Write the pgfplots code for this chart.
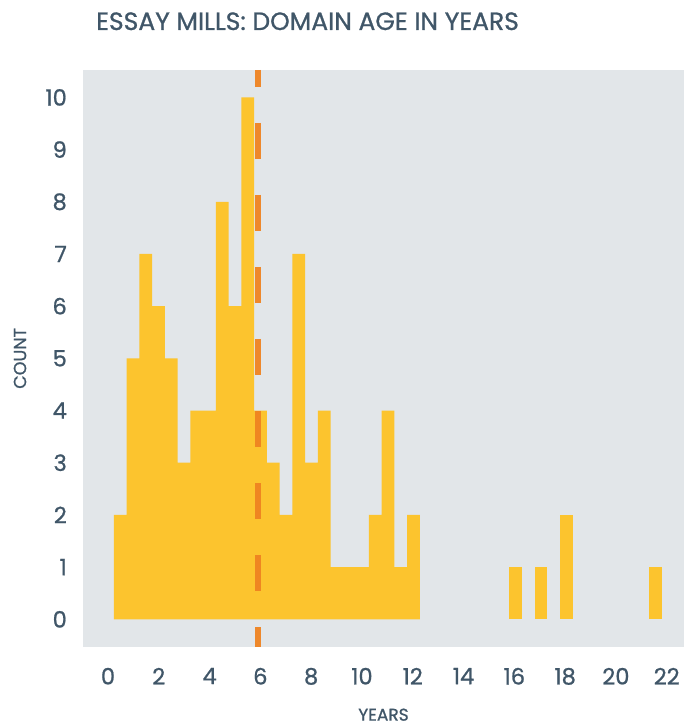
\documentclass[border=0pt]{standalone}
\usepackage{fontspec}
\setmainfont[FakeBold=0.9]{Poppins}
\usepackage{pgfplots}
\pgfplotsset{compat=1.18}
\definecolor{panel}{RGB}{226,230,233}
\definecolor{barfill}{RGB}{252,196,46}
\definecolor{median}{RGB}{239,131,33}
\definecolor{ink}{RGB}{64,86,104}

\begin{document}
\begin{tikzpicture}
\path[use as bounding box] (-83pt,-79.3pt) rectangle (601pt,646.7pt);
\begin{axis}[
  at={(0,0)}, anchor=south west,
  width=601pt, height=576.7pt, scale only axis,
  xmin=-0.984, xmax=22.68, ymin=-0.525, ymax=10.525,
  axis line style={draw=none},
  axis background/.style={fill=panel},
  xtick={0,2,...,22}, ytick={0,1,...,10},
  major tick length=0pt,
  /pgf/number format/assume math mode=true,
  tick label style={font=\fontsize{22.5}{22.5}\selectfont, text=ink},
  yticklabel style={anchor=east, inner sep=0pt, xshift=-16pt},
  xticklabel style={anchor=north, inner sep=0pt, yshift=-21pt},
  title={ESSAY MILLS: DOMAIN AGE IN YEARS},
  title style={at={(axis description cs:0,1)}, anchor=base west, inner sep=0pt,
    xshift=13pt, yshift=34pt, font=\fontsize{25}{25}\selectfont, text=ink},
  xlabel={YEARS}, ylabel={COUNT},
  every axis x label/.style={at={(axis description cs:0.5,0)}, anchor=center,
    yshift=-68pt, font=\fontsize{17}{17}\selectfont, text=ink},
  every axis y label/.style={at={(axis description cs:0,0.5)}, xshift=-63pt,
    rotate=90, anchor=center, font=\fontsize{17.5}{17.5}\selectfont, text=ink},
]
% histogram: left bin edges and counts (last row closes the final bin)
\addplot[ybar interval, fill=barfill, draw=none] coordinates {
  (0.236,2) (0.738,5) (1.240,7) (1.742,6) (2.244,5) (2.746,3) (3.248,4)
  (3.750,4) (4.252,8) (4.754,6) (5.256,10) (5.758,4) (6.260,3) (6.762,2)
  (7.264,7) (7.766,3) (8.268,4) (8.770,1) (9.272,1) (9.774,1) (10.276,2)
  (10.778,4) (11.280,1) (11.782,2) (12.284,2)
};
% isolated bins in the tail
\addplot[ybar interval, fill=barfill, draw=none] coordinates {(15.798,1) (16.300,1)};
\addplot[ybar interval, fill=barfill, draw=none] coordinates {(16.802,1) (17.304,1)};
\addplot[ybar interval, fill=barfill, draw=none] coordinates {(17.806,2) (18.308,2)};
\addplot[ybar interval, fill=barfill, draw=none] coordinates {(21.320,1) (21.822,1)};
% median
\addplot[median, opacity=0.95, line width=6pt, dash pattern=on 36pt off 36pt,
  dash phase=19pt] coordinates {(5.89,10.525) (5.89,-0.525)};
\end{axis}
\end{tikzpicture}
\end{document}
